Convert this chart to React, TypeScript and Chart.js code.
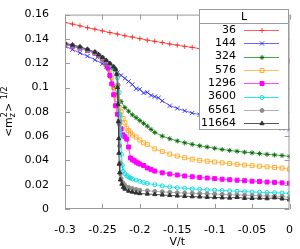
import React, { useEffect, useRef } from "react";
import { Chart, registerables } from "chart.js";
import { drawPoint } from "chart.js/helpers";

Chart.register(...registerables);

// ---------------- data ----------------
const seriesLabels = ["36", "144", "324", "576", "1296", "3600", "6561", "11664"];
const legendTitle = "L";
const xAxisTitle = "V/t";
const xTicks = [-0.3, -0.25, -0.2, -0.15, -0.1, -0.05, 0];
const yTicks = [0, 0.02, 0.04, 0.06, 0.08, 0.1, 0.12, 0.14, 0.16];

const x36 = [-0.3, -0.29, -0.28, -0.27, -0.26, -0.25, -0.24, -0.23, -0.22, -0.21, -0.2, -0.19, -0.18, -0.17, -0.16, -0.15, -0.14, -0.13, -0.12, -0.11, -0.1, -0.09, -0.08, -0.07, -0.06, -0.05, -0.04, -0.03, -0.02, -0.01, 0];
const y36 = [0.1535, 0.1522, 0.1508, 0.1492, 0.148, 0.1466, 0.1452, 0.144, 0.1426, 0.1415, 0.1402, 0.139, 0.138, 0.137, 0.1358, 0.1349, 0.1338, 0.133, 0.132, 0.1311, 0.1302, 0.1293, 0.1285, 0.1276, 0.1268, 0.126, 0.1252, 0.1245, 0.1237, 0.123, 0.1222];

const x144 = [-0.3, -0.29, -0.28, -0.27, -0.26, -0.25, -0.24, -0.23, -0.225, -0.22, -0.215, -0.21, -0.205, -0.2, -0.195, -0.19, -0.185, -0.18, -0.175, -0.17, -0.16, -0.15, -0.14, -0.13, -0.12, -0.11, -0.1, -0.09, -0.08, -0.07, -0.06, -0.05, -0.04, -0.03, -0.02, -0.01, 0];
const y144 = [0.134, 0.1312, 0.1285, 0.1258, 0.1228, 0.1195, 0.116, 0.1122, 0.11, 0.1075, 0.105, 0.1025, 0.099, 0.0985, 0.0955, 0.096, 0.0935, 0.0925, 0.0915, 0.089, 0.085, 0.0828, 0.0808, 0.079, 0.0776, 0.0762, 0.0748, 0.0735, 0.0723, 0.0712, 0.0702, 0.0693, 0.0684, 0.0677, 0.067, 0.0663, 0.0656];

const x324 = [-0.3, -0.29, -0.28, -0.27, -0.26, -0.255, -0.25, -0.245, -0.24, -0.235, -0.23, -0.225, -0.22, -0.215, -0.21, -0.205, -0.2, -0.195, -0.19, -0.185, -0.18, -0.17, -0.16, -0.15, -0.14, -0.13, -0.12, -0.11, -0.1, -0.09, -0.08, -0.07, -0.06, -0.05, -0.04, -0.03, -0.02, -0.01, 0];
const y324 = [0.1355, 0.134, 0.1325, 0.1305, 0.128, 0.1255, 0.1225, 0.117, 0.109, 0.1015, 0.0945, 0.0885, 0.0835, 0.0805, 0.0775, 0.0752, 0.0728, 0.0705, 0.0682, 0.0655, 0.063, 0.06, 0.0578, 0.056, 0.0545, 0.0532, 0.052, 0.051, 0.05, 0.049, 0.0482, 0.0475, 0.0468, 0.0462, 0.0456, 0.045, 0.0445, 0.044, 0.0433];

const x576 = [-0.3, -0.29, -0.28, -0.27, -0.26, -0.255, -0.25, -0.245, -0.24, -0.2375, -0.235, -0.2325, -0.23, -0.2275, -0.225, -0.2225, -0.22, -0.2175, -0.215, -0.2125, -0.21, -0.205, -0.2, -0.195, -0.19, -0.18, -0.17, -0.16, -0.15, -0.14, -0.13, -0.12, -0.11, -0.1, -0.09, -0.08, -0.07, -0.06, -0.05, -0.04, -0.03, -0.02, -0.01, 0];
const y576 = [0.1355, 0.134, 0.1325, 0.1305, 0.1282, 0.126, 0.1235, 0.12, 0.1145, 0.108, 0.1, 0.094, 0.09, 0.0835, 0.08, 0.0745, 0.071, 0.0665, 0.0645, 0.0625, 0.0608, 0.0592, 0.0568, 0.0545, 0.053, 0.0495, 0.0472, 0.0452, 0.0436, 0.0422, 0.041, 0.04, 0.0393, 0.0387, 0.038, 0.0374, 0.0368, 0.0362, 0.0357, 0.0352, 0.0347, 0.0342, 0.0337, 0.0327];

const x1296 = [-0.3, -0.29, -0.28, -0.27, -0.26, -0.255, -0.25, -0.245, -0.2425, -0.24, -0.2375, -0.235, -0.2325, -0.23, -0.2275, -0.225, -0.2225, -0.22, -0.2175, -0.215, -0.2125, -0.21, -0.2075, -0.205, -0.2025, -0.2, -0.195, -0.19, -0.185, -0.18, -0.17, -0.16, -0.15, -0.14, -0.13, -0.12, -0.11, -0.1, -0.09, -0.08, -0.07, -0.06, -0.05, -0.04, -0.03, -0.02, -0.01, 0];
const y1296 = [0.1355, 0.134, 0.1325, 0.1305, 0.1283, 0.1262, 0.124, 0.1205, 0.116, 0.11, 0.103, 0.094, 0.085, 0.078, 0.072, 0.066, 0.061, 0.0595, 0.0575, 0.051, 0.042, 0.0405, 0.0398, 0.0386, 0.0378, 0.037, 0.0358, 0.0338, 0.0326, 0.0312, 0.0298, 0.0288, 0.028, 0.0272, 0.0265, 0.026, 0.0255, 0.025, 0.0245, 0.0241, 0.0237, 0.0233, 0.0229, 0.0226, 0.0222, 0.0219, 0.0215, 0.0212];

const x3600 = [-0.3, -0.29, -0.28, -0.27, -0.26, -0.255, -0.25, -0.245, -0.24, -0.2375, -0.235, -0.2325, -0.23, -0.2275, -0.2265, -0.2255, -0.2245, -0.2235, -0.2225, -0.22, -0.2175, -0.215, -0.2125, -0.21, -0.205, -0.2, -0.195, -0.19, -0.18, -0.17, -0.16, -0.15, -0.14, -0.13, -0.12, -0.11, -0.1, -0.09, -0.08, -0.07, -0.06, -0.05, -0.04, -0.03, -0.02, -0.01, 0];
const y3600 = [0.1358, 0.1345, 0.1328, 0.1308, 0.1285, 0.1265, 0.1243, 0.1218, 0.1192, 0.1175, 0.1155, 0.1125, 0.108, 0.096, 0.078, 0.06, 0.045, 0.036, 0.031, 0.029, 0.0275, 0.0265, 0.0255, 0.0248, 0.0238, 0.0228, 0.0218, 0.021, 0.02, 0.019, 0.0182, 0.0176, 0.017, 0.0166, 0.0162, 0.0158, 0.0155, 0.0152, 0.0149, 0.0146, 0.0143, 0.014, 0.0138, 0.0136, 0.0134, 0.0131, 0.0128];

const x6561 = [-0.3, -0.29, -0.28, -0.27, -0.26, -0.255, -0.25, -0.245, -0.24, -0.235, -0.2325, -0.23, -0.229, -0.228, -0.2275, -0.227, -0.2265, -0.226, -0.225, -0.2225, -0.22, -0.215, -0.21, -0.205, -0.2, -0.19, -0.18, -0.17, -0.16, -0.15, -0.14, -0.13, -0.12, -0.11, -0.1, -0.09, -0.08, -0.07, -0.06, -0.05, -0.04, -0.03, -0.02, -0.01, 0];
const y6561 = [0.136, 0.1347, 0.133, 0.131, 0.1288, 0.1266, 0.1245, 0.122, 0.1195, 0.1168, 0.115, 0.111, 0.102, 0.088, 0.07, 0.052, 0.038, 0.029, 0.025, 0.0215, 0.0195, 0.0178, 0.0168, 0.016, 0.0155, 0.015, 0.0145, 0.0141, 0.0137, 0.0134, 0.0131, 0.0129, 0.0127, 0.0125, 0.0123, 0.012, 0.0118, 0.0116, 0.0114, 0.0112, 0.011, 0.0108, 0.0106, 0.0103, 0.0096];

const x11664 = [-0.3, -0.29, -0.28, -0.27, -0.26, -0.255, -0.25, -0.245, -0.24, -0.235, -0.2325, -0.231, -0.2298, -0.2292, -0.2287, -0.2283, -0.228, -0.2275, -0.227, -0.226, -0.224, -0.222, -0.22, -0.215, -0.21, -0.205, -0.2, -0.19, -0.18, -0.17, -0.16, -0.15, -0.14, -0.13, -0.12, -0.11, -0.1, -0.09, -0.08, -0.07, -0.06, -0.05, -0.04, -0.03, -0.02, -0.01, 0];
const y11664 = [0.1365, 0.135, 0.1335, 0.1315, 0.1292, 0.127, 0.1248, 0.1224, 0.1198, 0.117, 0.115, 0.111, 0.1, 0.086, 0.072, 0.058, 0.046, 0.037, 0.03, 0.024, 0.0205, 0.018, 0.0165, 0.0148, 0.014, 0.0133, 0.0128, 0.0124, 0.012, 0.0116, 0.0112, 0.0108, 0.0105, 0.0102, 0.01, 0.0097, 0.0095, 0.0093, 0.0091, 0.0096, 0.0089, 0.0088, 0.009, 0.0086, 0.0093, 0.0084, 0.0076];

const seriesX = [x36, x144, x324, x576, x1296, x3600, x6561, x11664];
const seriesY = [y36, y144, y324, y576, y1296, y3600, y6561, y11664];

// ---------------- styles ----------------
const FONT = "'DejaVu Sans', sans-serif";
const styles = [
  { line: "rgba(255,40,40,0.75)", mark: "rgba(255,30,30,0.85)", shape: "cross", r: 2.5, fill: "rgba(0,0,0,0)" },
  { line: "rgba(40,40,255,0.7)", mark: "rgba(30,30,255,0.85)", shape: "crossRot", r: 3, fill: "rgba(0,0,0,0)" },
  { line: "rgba(0,128,0,0.7)", mark: "rgba(0,100,0,0.85)", shape: "star", r: 2.5, fill: "rgba(0,0,0,0)" },
  { line: "rgba(255,170,30,0.75)", mark: "rgba(255,165,30,0.9)", shape: "rect", r: 2.8, fill: "rgba(0,0,0,0)" },
  { line: "rgba(255,0,255,0.7)", mark: "#ff00ff", shape: "rect", r: 2.8, fill: "#ff00ff" },
  { line: "rgba(0,230,230,0.85)", mark: "rgba(0,215,215,0.9)", shape: "circle", r: 2, fill: "rgba(0,0,0,0)" },
  { line: "rgba(170,170,170,0.9)", mark: "#8c8c8c", shape: "circle", r: 2, fill: "#8c8c8c" },
  { line: "rgba(70,70,70,0.9)", mark: "#303030", shape: "triangle", r: 2.4, fill: "#303030" },
];

const fmt = (v: number) => String(Number(v.toFixed(3)));

const decorPlugin = {
  id: "decor",
  afterDatasetsDraw(chart: any) {
    const { ctx, chartArea, scales } = chart;
    const { left, right, top, bottom } = chartArea;
    const xs = scales.x;
    const ys = scales.y;
    ctx.save();
    // frame
    ctx.strokeStyle = "#9a9a9a";
    ctx.lineWidth = 1;
    ctx.strokeRect(left + 0.5, top + 0.5, right - left - 1, bottom - top - 1);
    const tl = 5;
    ctx.beginPath();
    xTicks.forEach((v) => {
      const px = Math.round(xs.getPixelForValue(v)) + 0.5;
      ctx.moveTo(px, bottom);
      ctx.lineTo(px, bottom - tl);
      ctx.moveTo(px, top);
      ctx.lineTo(px, top + tl);
    });
    yTicks.forEach((v) => {
      const py = Math.round(ys.getPixelForValue(v)) + 0.5;
      ctx.moveTo(left, py);
      ctx.lineTo(left + tl, py);
      ctx.moveTo(right, py);
      ctx.lineTo(right - tl, py);
    });
    ctx.stroke();

    // legend box
    const bx = 199.5, by = 9.5, bw = 89, rowH = 13.3;
    const bh = 120;
    ctx.fillStyle = "#ffffff";
    ctx.fillRect(bx, by, bw, bh);
    ctx.strokeStyle = "#9a9a9a";
    ctx.strokeRect(bx, by, bw, bh);
    ctx.beginPath();
    ctx.moveTo(bx, 23.5);
    ctx.lineTo(bx + bw, 23.5);
    ctx.stroke();
    ctx.fillStyle = "#000";
    ctx.font = `11px ${FONT}`;
    ctx.textAlign = "center";
    ctx.textBaseline = "middle";
    ctx.fillText(legendTitle, bx + bw / 2, 17);
    seriesLabels.forEach((lab, i) => {
      const yy = 30 + i * rowH;
      const st = styles[i];
      ctx.fillStyle = "#000";
      ctx.textAlign = "right";
      ctx.fillText(lab, 236, yy);
      ctx.strokeStyle = st.line;
      ctx.lineWidth = 1;
      ctx.beginPath();
      ctx.moveTo(244, Math.round(yy) + 0.5);
      ctx.lineTo(279, Math.round(yy) + 0.5);
      ctx.stroke();
      ctx.strokeStyle = st.mark;
      ctx.fillStyle = st.fill;
      drawPoint(ctx, { pointStyle: st.shape, radius: st.r, borderWidth: 1, rotation: 0 } as any, 262, Math.round(yy) + 0.5);
    });

    // y axis title: <m_z^2> 1/2
    ctx.translate(12, (top + bottom) / 2);
    ctx.rotate(-Math.PI / 2);
    ctx.fillStyle = "#000";
    ctx.textAlign = "left";
    ctx.textBaseline = "alphabetic";
    const big = `11px ${FONT}`;
    const small = `8px ${FONT}`;
    ctx.font = big;
    const wLt = ctx.measureText("<m").width;
    const wGt = ctx.measureText(">").width;
    const wSp = ctx.measureText(" ").width;
    ctx.font = small;
    const wSS = Math.max(ctx.measureText("z").width, ctx.measureText("2").width);
    const wHalf = ctx.measureText("1/2").width;
    const total = wLt + wSS + wGt + wSp + wHalf;
    let cx = -total / 2;
    ctx.font = big;
    ctx.fillText("<m", cx, 0);
    cx += wLt;
    ctx.font = small;
    ctx.fillText("z", cx, 3);
    ctx.fillText("2", cx, -5);
    cx += wSS;
    ctx.font = big;
    ctx.fillText(">", cx, 0);
    cx += wGt + wSp;
    ctx.font = small;
    ctx.fillText("1/2", cx, -5);
    ctx.restore();
  },
};

export default function App() {
  const ref = useRef<HTMLCanvasElement | null>(null);
  useEffect(() => {
    if (!ref.current) return;
    const datasets = seriesLabels.map((lab, i) => ({
      label: lab,
      data: seriesX[i].map((x, k) => ({ x, y: seriesY[i][k] })),
      showLine: true,
      borderColor: styles[i].line,
      borderWidth: 1,
      pointStyle: styles[i].shape,
      pointRadius: styles[i].r,
      pointBorderColor: styles[i].mark,
      pointBackgroundColor: styles[i].fill,
      pointBorderWidth: 1,
      tension: 0,
      fill: false,
      order: seriesLabels.length - 1 - i,
    }));
    const chart = new Chart(ref.current, {
      type: "scatter",
      data: { datasets },
      plugins: [decorPlugin],
      options: {
        responsive: false,
        animation: false,
        devicePixelRatio: 1,
        layout: { padding: { left: 0, right: 5, top: 5, bottom: 0 } },
        plugins: { legend: { display: false }, tooltip: { enabled: false }, title: { display: false } },
        events: [],
        scales: {
          x: {
            type: "linear",
            min: -0.3,
            max: 0,
            afterBuildTicks: (scale: any) => {
              scale.ticks = xTicks.map((v) => ({ value: v }));
            },
            afterFit: (scale: any) => {
              scale.height = 40;
            },
            grid: { display: false },
            border: { display: false },
            ticks: {
              color: "#000",
              padding: 7,
              maxRotation: 0,
              autoSkip: false,
              font: { family: FONT, size: 11 },
              callback: (v: any) => fmt(Number(v)),
            },
            title: {
              display: true,
              text: xAxisTitle,
              color: "#000",
              font: { family: FONT, size: 11 },
              padding: { top: 0, bottom: 0 },
            },
          },
          y: {
            type: "linear",
            min: 0,
            max: 0.16,
            afterBuildTicks: (scale: any) => {
              scale.ticks = yTicks.map((v) => ({ value: v }));
            },
            afterFit: (scale: any) => {
              scale.width = 65;
            },
            grid: { display: false },
            border: { display: false },
            ticks: {
              color: "#000",
              padding: 8,
              autoSkip: false,
              font: { family: FONT, size: 11 },
              callback: (v: any) => fmt(Number(v)),
            },
          },
        },
      } as any,
    });
    return () => chart.destroy();
  }, []);
  return (
    <div style={{ position: "fixed", left: 0, top: 0, width: 300, height: 249, background: "#fff" }}>
      <canvas ref={ref} width={300} height={249} style={{ display: "block", width: 300, height: 249 }} />
    </div>
  );
}
